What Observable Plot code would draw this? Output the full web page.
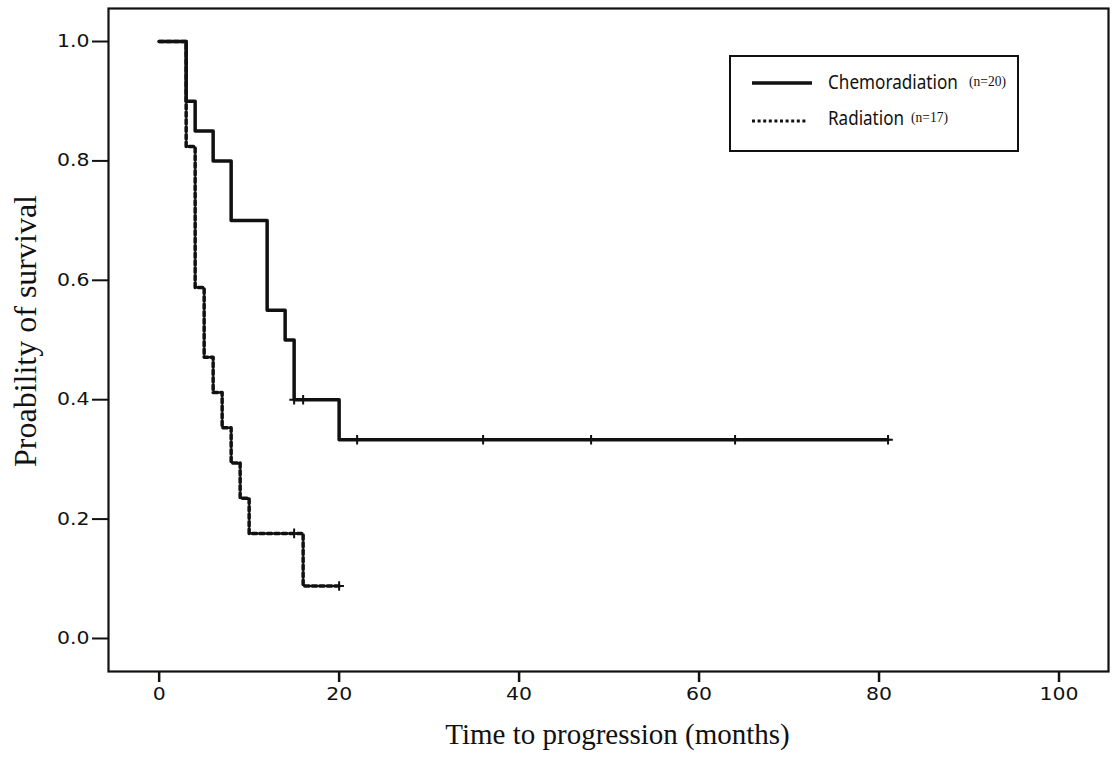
<!DOCTYPE html>
<html>
<head>
<meta charset="utf-8">
<script src="https://cdn.jsdelivr.net/npm/d3@7"></script>
<script src="https://cdn.jsdelivr.net/npm/@observablehq/plot@0.6"></script>
<style>
  html, body { margin: 0; padding: 0; background: #fff; }
  #wrap { position: relative; width: 1120px; height: 763px; }
  #legend { position: absolute; left: 0; top: 0; }
</style>
</head>
<body>
<div id="wrap"></div>
<script>
// Chemoradiation (n=20): Kaplan–Meier step points
const chemoTime = [0, 3, 4, 6, 8, 12, 14, 15, 20, 81];
const chemoSurv = [1.0, 0.9, 0.85, 0.8, 0.7, 0.55, 0.5, 0.4, 0.333, 0.333];
const chemoCensorTime = [15, 16, 22, 36, 48, 64, 81];
const chemoCensorSurv = [0.4, 0.4, 0.333, 0.333, 0.333, 0.333, 0.333];

// Radiation (n=17)
const radTime = [0, 3, 4, 5, 6, 7, 8, 9, 10, 16, 20];
const radSurv = [1.0, 0.824, 0.588, 0.471, 0.412, 0.353, 0.294, 0.235, 0.176, 0.088, 0.088];
const radCensorTime = [15, 20];
const radCensorSurv = [0.176, 0.088];

const xTicks = [0, 20, 40, 60, 80, 100];
const yTicks = [0.0, 0.2, 0.4, 0.6, 0.8, 1.0];

const xLabel = "Time to progression (months)";
const yLabel = "Proability of survival";
const seriesNames = ["Chemoradiation", "Radiation"];
const seriesN = ["(n=20)", "(n=17)"];

const chemo = chemoTime.map((t, i) => ({t, s: chemoSurv[i]}));
const rad = radTime.map((t, i) => ({t, s: radSurv[i]}));
const chemoC = chemoCensorTime.map((t, i) => ({t, s: chemoCensorSurv[i]}));
const radC = radCensorTime.map((t, i) => ({t, s: radCensorSurv[i]}));

const chart = Plot.plot({
  width: 1120,
  height: 763,
  marginLeft: 108,
  marginRight: 12,
  marginTop: 8,
  marginBottom: 92,
  style: {background: "#fff", fontFamily: "DejaVu Sans", fontSize: "17px", color: "#111"},
  x: {domain: [-5.63, 105.5]},
  y: {domain: [-0.0553, 1.0553]},
  marks: [
    Plot.axisX({ticks: xTicks, tickSize: 11, tickPadding: 5, strokeWidth: 2.5, label: null, fontSize: 17}),
    Plot.axisY({ticks: yTicks, tickSize: 16, tickPadding: 3, strokeWidth: 2, tickFormat: d3.format(".1f"), label: null, fontSize: 17}),
    Plot.line(rad, {x: "t", y: "s", curve: "step-after", stroke: "#111", strokeWidth: 3.5, strokeDasharray: "4.5,3"}),
    Plot.line(chemo, {x: "t", y: "s", curve: "step-after", stroke: "#111", strokeWidth: 3.5}),
    Plot.dot(chemoC, {x: "t", y: "s", symbol: "plus", r: 3.2, stroke: "#111", strokeWidth: 2}),
    Plot.dot(radC, {x: "t", y: "s", symbol: "plus", r: 3.2, stroke: "#111", strokeWidth: 2}),
    Plot.frame({stroke: "#111", strokeWidth: 2.2}),
    Plot.text([xLabel], {text: d => d, frameAnchor: "bottom", dx: 9, dy: 72, lineAnchor: "bottom", fontFamily: "Liberation Serif", fontSize: 29, fill: "#111"}),
    Plot.text([yLabel], {text: d => d, frameAnchor: "left", textAnchor: "middle", rotate: -90, dx: -83, dy: -9, lineAnchor: "middle", fontFamily: "Liberation Serif", fontSize: 32, fill: "#111"})
  ]
});
document.getElementById("wrap").appendChild(chart);

// Widen tick labels to match the reference's extended digits
d3.select(chart).selectAll('g[aria-label="x-axis tick label"] text, g[aria-label="y-axis tick label"] text')
  .each(function () {
    const s = this.textContent;
    let w = 0;
    for (const c of s) w += (c === "." ? 6.5 : 13);
    d3.select(this).attr("textLength", w).attr("lengthAdjust", "spacingAndGlyphs");
  });

// Legend overlay
const leg = d3.select("#wrap").append("svg")
  .attr("id", "legend").attr("width", 1120).attr("height", 763);
leg.append("rect").attr("x", 730).attr("y", 56).attr("width", 288).attr("height", 95)
  .attr("fill", "#fff").attr("stroke", "#111").attr("stroke-width", 2);
leg.append("line").attr("x1", 752).attr("x2", 812).attr("y1", 83).attr("y2", 83)
  .attr("stroke", "#111").attr("stroke-width", 3.5);
leg.append("line").attr("x1", 752).attr("x2", 808).attr("y1", 121).attr("y2", 121)
  .attr("stroke", "#111").attr("stroke-width", 3).attr("stroke-dasharray", "3,2.6");

// Horizontally scaled text so the glyphs (and their boxes) take the reference's width
function fitText(str, x, y, width, family, size) {
  const g = leg.append("g").attr("transform", `translate(${x},${y})`);
  const t = g.append("text").attr("x", 0).attr("y", 0)
    .attr("font-family", family).attr("font-size", size).attr("fill", "#111").text(str);
  const natural = t.node().getComputedTextLength() || width;
  g.attr("transform", `translate(${x},${y}) scale(${width / natural},1)`);
}
const names = [[seriesNames[0], 89, 130, seriesN[0], 969], [seriesNames[1], 125, 76, seriesN[1], 911]];
names.forEach(([nm, yb, w, n, nx]) => {
  fitText(nm, 828, yb, w, "Noto Sans", 20);
  fitText(n, nx, yb - 3, 37, "Liberation Serif", 14);
});
</script>
</body>
</html>
